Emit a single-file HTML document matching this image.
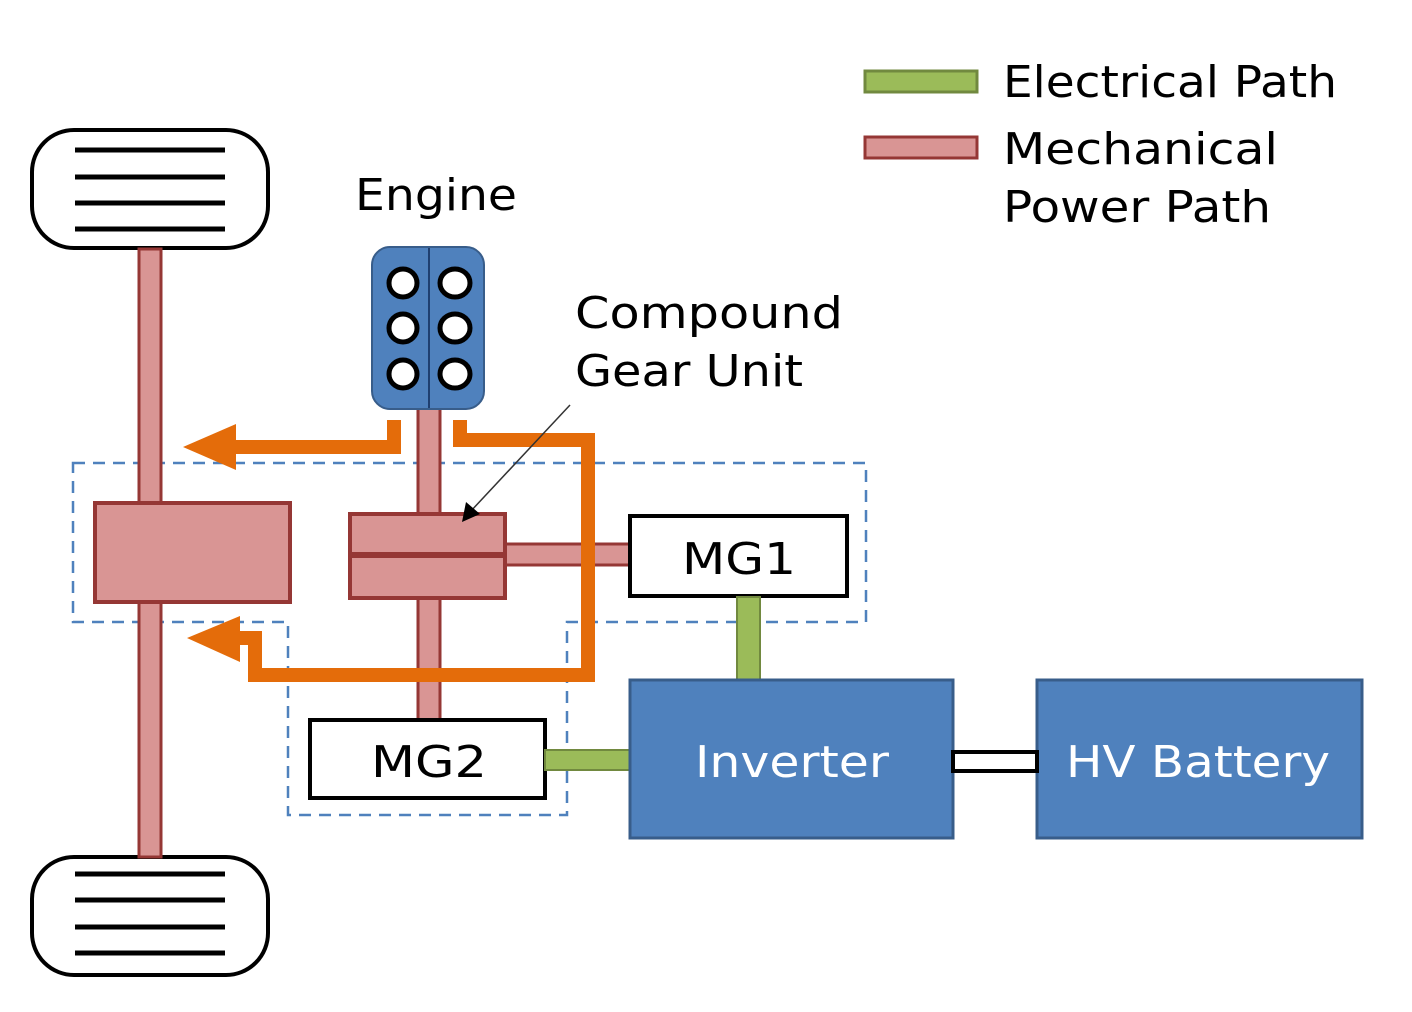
<!DOCTYPE html>
<html><head><meta charset="utf-8"><style>body{margin:0;background:#fff}svg{display:block}</style></head>
<body>
<svg width="1412" height="1012" viewBox="0 0 1412 1012" xmlns="http://www.w3.org/2000/svg" font-family="'DejaVu Sans','Liberation Sans',sans-serif">
<!-- wheels -->
<rect x="32" y="130" width="236" height="118" rx="42" fill="#fff" stroke="#000" stroke-width="4"/>
<g stroke="#000" stroke-width="5"><line x1="75" y1="150" x2="225" y2="150"/><line x1="75" y1="177" x2="225" y2="177"/><line x1="75" y1="203" x2="225" y2="203"/><line x1="75" y1="229" x2="225" y2="229"/></g>
<rect x="32" y="857" width="236" height="118" rx="42" fill="#fff" stroke="#000" stroke-width="4"/>
<g stroke="#000" stroke-width="5"><line x1="75" y1="874" x2="225" y2="874"/><line x1="75" y1="900" x2="225" y2="900"/><line x1="75" y1="927" x2="225" y2="927"/><line x1="75" y1="953" x2="225" y2="953"/></g>
<!-- dashed boundary -->
<path d="M73 463 H866 V622 H567 V815 H288 V622 H73 Z" fill="none" stroke="#4f81bd" stroke-width="2.5" stroke-dasharray="12 8"/>
<!-- axle -->
<rect x="139" y="249" width="22" height="608" fill="#d99594" stroke="#953735" stroke-width="3"/>
<!-- engine shaft -->
<rect x="418" y="405" width="22" height="315" fill="#d99594" stroke="#953735" stroke-width="3"/>
<rect x="505" y="544" width="125" height="21" fill="#d99594" stroke="#953735" stroke-width="3"/>
<rect x="95" y="503" width="195" height="99" fill="#d99594" stroke="#953735" stroke-width="4"/>
<rect x="350" y="514" width="155" height="84" fill="#d99594" stroke="#953735" stroke-width="4"/>
<line x1="350" y1="555" x2="505" y2="555" stroke="#953735" stroke-width="6"/>
<!-- engine -->
<rect x="372" y="247" width="112" height="162" rx="18" fill="#4f81bd" stroke="#385d8a" stroke-width="2"/>
<line x1="429" y1="248" x2="429" y2="408" stroke="#1f3f70" stroke-width="2"/>
<g fill="#fff" stroke="#000" stroke-width="5">
<ellipse cx="403" cy="283" rx="14" ry="14"/><ellipse cx="455" cy="283" rx="15" ry="14"/>
<ellipse cx="403" cy="328" rx="14" ry="14"/><ellipse cx="455" cy="328" rx="15" ry="14"/>
<ellipse cx="403" cy="374" rx="14" ry="14"/><ellipse cx="455" cy="374" rx="15" ry="14"/>
</g>
<!-- orange paths -->
<g fill="none" stroke="#e46c0a" stroke-width="14" stroke-linejoin="miter">
<path d="M394 420 V447 H232"/>
<path d="M460 420 V440 H588 V675 H255 V638 H238"/>
</g>
<polygon points="183,447 236,424 236,470" fill="#e46c0a"/>
<polygon points="187,638 240,616 240,662" fill="#e46c0a"/>
<!-- thin pointer -->
<line x1="570" y1="405" x2="470" y2="512" stroke="#333" stroke-width="1.5"/>
<polygon points="462,522 466,502 480,514" fill="#000"/>
<!-- MG boxes -->
<rect x="630" y="516" width="217" height="80" fill="#fff" stroke="#000" stroke-width="4"/>
<rect x="310" y="720" width="235" height="78" fill="#fff" stroke="#000" stroke-width="4"/>
<!-- green -->
<rect x="737" y="597" width="23" height="83" fill="#9bbb59" stroke="#71893f" stroke-width="2"/>
<rect x="545" y="750" width="85" height="20" fill="#9bbb59" stroke="#71893f" stroke-width="2"/>
<!-- inverter/battery -->
<rect x="630" y="680" width="323" height="158" fill="#4f81bd" stroke="#385d8a" stroke-width="3"/>
<rect x="1037" y="680" width="325" height="158" fill="#4f81bd" stroke="#385d8a" stroke-width="3"/>
<rect x="953" y="752" width="84" height="19" fill="#fff" stroke="#000" stroke-width="4"/>
<!-- legend -->
<rect x="865" y="71" width="112" height="21" fill="#9bbb59" stroke="#71893f" stroke-width="3"/>
<rect x="865" y="137" width="112" height="21" fill="#d99594" stroke="#953735" stroke-width="3"/>
<g font-size="44" fill="#000">
<text x="1003" y="97" textLength="334" lengthAdjust="spacingAndGlyphs">Electrical Path</text>
<text x="1003" y="164" textLength="275" lengthAdjust="spacingAndGlyphs">Mechanical</text>
<text x="1003" y="222" textLength="268" lengthAdjust="spacingAndGlyphs">Power Path</text>
<text x="355" y="210" textLength="162" lengthAdjust="spacingAndGlyphs">Engine</text>
<text x="575" y="328" textLength="268" lengthAdjust="spacingAndGlyphs">Compound</text>
<text x="575" y="386" textLength="228" lengthAdjust="spacingAndGlyphs">Gear Unit</text>
<text x="682" y="574" textLength="114" lengthAdjust="spacingAndGlyphs">MG1</text>
<text x="371" y="777" textLength="116" lengthAdjust="spacingAndGlyphs">MG2</text>
<text x="695" y="777" fill="#fff" textLength="194" lengthAdjust="spacingAndGlyphs">Inverter</text>
<text x="1066" y="777" fill="#fff" textLength="264" lengthAdjust="spacingAndGlyphs">HV Battery</text>
</g>
</svg>
</body></html>
